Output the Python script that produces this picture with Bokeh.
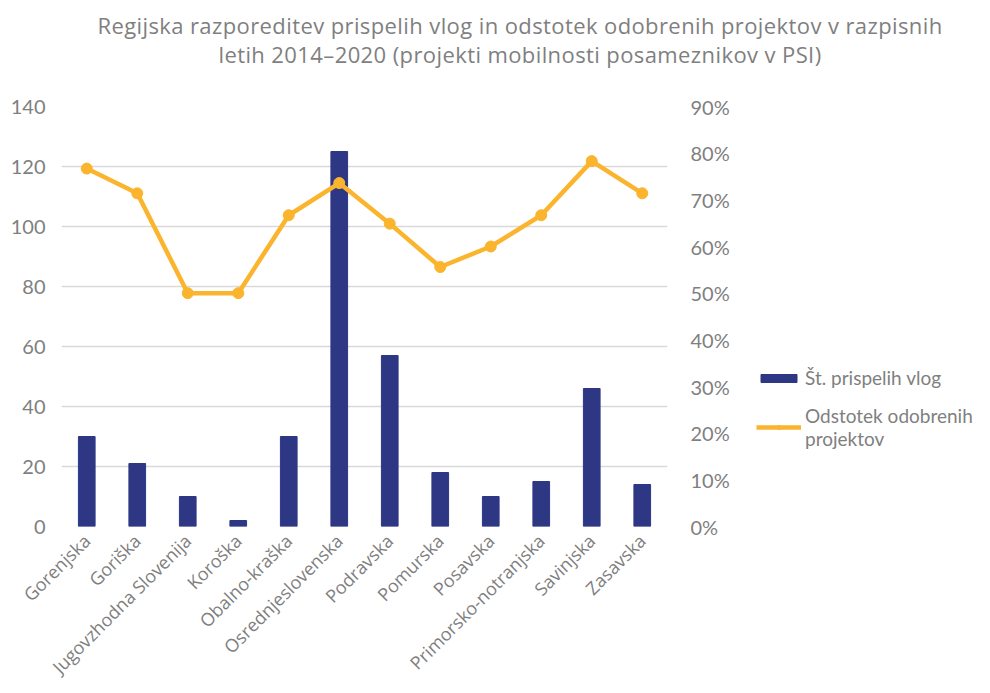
from bokeh.plotting import figure
from bokeh.layouts import column, row
from bokeh.models import (Range1d, LinearAxis, SingleIntervalTicker, NumeralTickFormatter,
                          Legend, LegendItem, ColumnDataSource, FixedTicker, Div)
from bokeh.embed import file_html
from bokeh.resources import INLINE
import math

regions = ["Gorenjska", "Goriška", "Jugovzhodna Slovenija", "Koroška", "Obalno-kraška",
           "Osrednjeslovenska", "Podravska", "Pomurska", "Posavska", "Primorsko-notranjska",
           "Savinjska", "Zasavska"]
applications = [30, 21, 10, 2, 30, 125, 57, 18, 10, 15, 46, 14]
approved_pct = [0.767, 0.714, 0.500, 0.500, 0.667, 0.736, 0.649, 0.556, 0.600, 0.667, 0.783, 0.714]
left_ticks = [0, 20, 40, 60, 80, 100, 120, 140]
title_lines = ["Regijska razporeditev prispelih vlog in odstotek odobrenih projektov v razpisnih",
               "letih 2014–2020 (projekti mobilnosti posameznikov v PSI)"]
legend_labels = ["Št. prispelih vlog", "Odstotek odobrenih\nprojektov"]

GRAY = "#7f7f7f"
BLUE = "#2e3784"
GOLD = "#fbb42d"
FONT = "Lato"
TITLE_H = 75
MAIN_W = 732
TOTAL_W = 974
PLOT_H = 693 - TITLE_H

src = ColumnDataSource(dict(x=regions, n=applications, p=approved_pct))

p = figure(x_range=regions, y_range=Range1d(0, 140), width=MAIN_W, height=PLOT_H,
           min_border_left=61, min_border_right=MAIN_W - 672, min_border_top=106 - TITLE_H,
           min_border_bottom=PLOT_H - (526 - TITLE_H), output_backend="svg",
           toolbar_location=None, tools="")
p.extra_y_ranges = {"pct": Range1d(0, 0.9)}
p.x_range.range_padding = 0
p.outline_line_color = None

p.vbar(x="x", top="n", width=0.33, source=src, color=BLUE)
p.line(x="x", y="p", source=src, y_range_name="pct", line_color=GOLD, line_width=4.5)
p.scatter(x="x", y="p", source=src, y_range_name="pct", size=11, color=GOLD)

# left axis
ya = p.yaxis[0]
ya.ticker = FixedTicker(ticks=left_ticks)
ya.axis_line_color = None
ya.major_tick_line_color = None
ya.minor_tick_line_color = None
ya.major_label_text_font = FONT
ya.major_label_text_font_size = "20px"
ya.major_label_text_color = GRAY
ya.major_label_standoff = 10

# right axis
ra = LinearAxis(y_range_name="pct", ticker=SingleIntervalTicker(interval=0.1),
                formatter=NumeralTickFormatter(format="0%"))
ra.axis_line_color = None
ra.major_tick_line_color = None
ra.minor_tick_line_color = None
ra.major_label_text_font = FONT
ra.major_label_text_font_size = "20px"
ra.major_label_text_color = GRAY
ra.major_label_standoff = 17
p.add_layout(ra, "right")

# x axis
xa = p.xaxis[0]
xa.axis_line_color = None
xa.major_tick_line_color = None
xa.major_label_orientation = math.pi / 4
xa.major_label_text_font = "Open Sans"
xa.major_label_text_font_size = "18px"
xa.major_label_text_color = GRAY
xa.major_label_standoff = 5

p.xgrid.grid_line_color = None
p.ygrid.grid_line_color = "#d9d9d9"
p.ygrid.grid_line_width = 1.5

# legend panel (styled proxies of the two series, nothing plotted)
lf = figure(width=TOTAL_W - MAIN_W, height=PLOT_H, x_range=Range1d(0, 1), y_range=Range1d(0, 1),
            min_border=0, x_axis_type=None, y_axis_type=None, output_backend="svg",
            toolbar_location=None, tools="")
lf.outline_line_color = None
lf.grid.grid_line_color = None
proxy = ColumnDataSource(dict(x=[float("nan")], y=[float("nan")]))
lb = lf.vbar(x="x", top="y", width=0.33, source=proxy, color=BLUE)
ll = lf.line(x="x", y="y", source=proxy, line_color=GOLD, line_width=4.5)
ls = lf.scatter(x="x", y="y", source=proxy, size=11, color=GOLD)
legend = Legend(items=[LegendItem(label=legend_labels[0], renderers=[lb]),
                       LegendItem(label=legend_labels[1], renderers=[ll, ls])],
                location=(24, 76), orientation="vertical", border_line_color=None,
                background_fill_alpha=0, padding=0, margin=0, spacing=15,
                glyph_width=45, glyph_height=10, label_standoff=4,
                label_text_font=FONT, label_text_font_size="19px", label_text_color=GRAY)
lf.add_layout(legend, "center")

title_html = ('<div style="width:%dpx; box-sizing:border-box; text-align:center; '
              'padding:11px 0 0 66px; font-family:\'Open Sans\'; font-size:22px; '
              'letter-spacing:0.4px; line-height:29px; color:%s; white-space:nowrap">%s</div>'
              % (TOTAL_W, GRAY, "<br>".join(title_lines)))
title = Div(text=title_html, width=TOTAL_W, height=TITLE_H, margin=0)

layout = column(title, row(p, lf, spacing=0), spacing=0)
open("out.html", "w").write(file_html(layout, INLINE))
